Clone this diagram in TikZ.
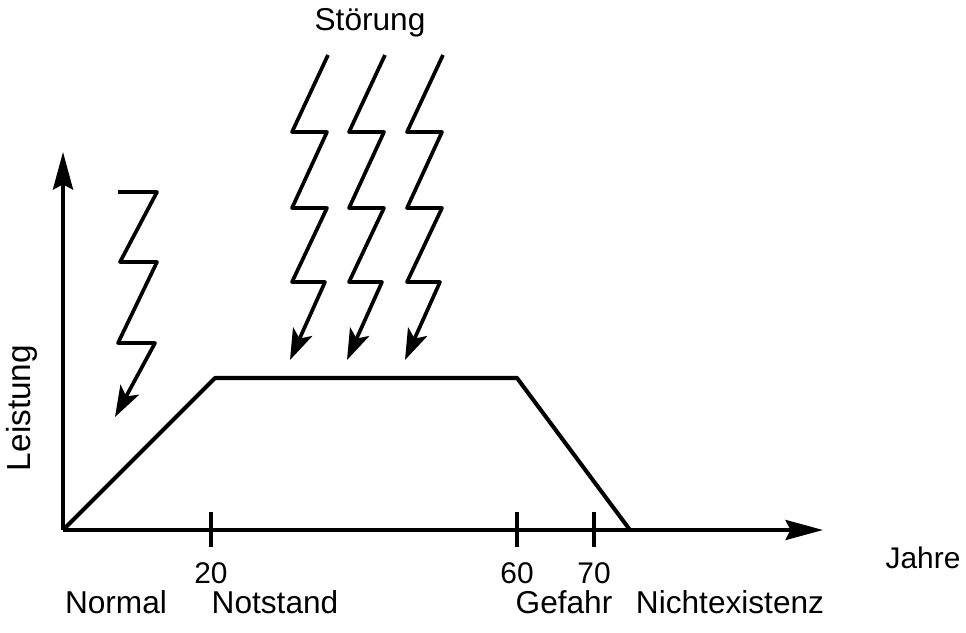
\documentclass[tikz,border=0pt]{standalone}
\usepackage{fontspec}
\setmainfont{Liberation Sans}
\usetikzlibrary{arrows.meta}
\begin{document}
\begin{tikzpicture}
  [x=0.02cm,y=-0.02cm,line join=round,
   every node/.style={inner sep=0pt},
   phase/.style={font=\fontsize{18}{21}\selectfont,anchor=base},
   tick/.style={font=\fontsize{17}{20}\selectfont,anchor=base},
   axis/.style={line width=2.1pt,-{Stealth[length=0.75cm,width=0.4cm,inset=0.1cm]}},
   bolt/.style={line width=2.1pt,-{Stealth[length=0.62cm,width=0.42cm,inset=0.15cm]}}]
  \useasboundingbox (0,0) rectangle (966,632);

  % axes
  \coordinate (o) at (63,530);
  \coordinate (ytop) at (63,152);
  \coordinate (xend) at (823,530);
  \draw[axis] (o) -- (ytop);
  \draw[axis] (o) -- (xend);
  \node[rotate=90,font=\fontsize{19}{22}\selectfont] (leistung) at (22,408) {Leistung};
  \node[font=\fontsize{17}{20}\selectfont,anchor=base] (jahre) at (923,568) {Jahre};

  % curve
  \coordinate (p1) at (215,378);
  \coordinate (p2) at (517,378);
  \coordinate (p3) at (630,530);
  \draw[line width=2.3pt] (o) -- (p1) -- (p2) -- (p3);

  % ticks
  \foreach \x/\lbl in {211/20,517/60,594/70}{
    \draw[line width=2.1pt] (\x,512) -- (\x,547);
    \node[tick] (t\lbl) at (\x,583) {\lbl};
  }

  % phases
  \node[phase] (normal) at (116,613) {Normal};
  \node[phase] (notstand) at (275,613) {Notstand};
  \node[phase] (gefahr) at (564,613) {Gefahr};
  \node[phase] (nichtex) at (730,613) {Nichtexistenz};

  % bolts
  \draw[bolt] (118,192) -- (157,192) -- (120,262) -- (157,262)
    -- (118,343) -- (155,343) -- (115,417);
  \foreach \x in {328,385,443}
    \draw[bolt] (\x,55) -- ++(-36,77) -- ++(35,0) -- ++(-35,76) -- ++(35,0)
      -- ++(-35,74) -- ++(33,0) -- ++(-35,78);
  \node[font=\fontsize{18}{21}\selectfont,anchor=base] (stoerung) at (370,31) {Störung};

\end{tikzpicture}
\end{document}
